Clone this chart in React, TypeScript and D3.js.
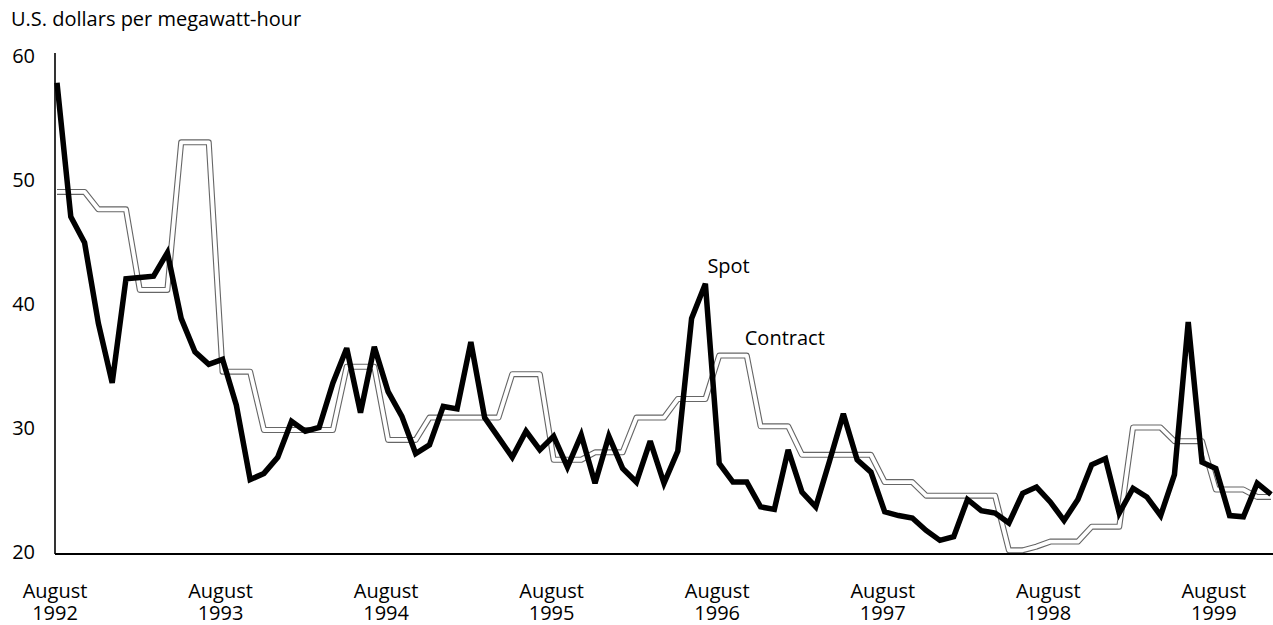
import React from 'react';
import * as d3 from 'd3';

// Monthly values, August 1992 – December 1999 (U.S. dollars per megawatt-hour)
const spot: number[] = [
  58.0, 47.2, 45.1, 38.6, 33.8, 42.2, 42.3, 42.4, 44.3, 39.0, 36.3, 35.3,
  35.7, 32.0, 26.0, 26.5, 27.8, 30.7, 29.9, 30.2, 33.8, 36.6, 31.4, 36.7,
  33.1, 31.1, 28.1, 28.8, 31.9, 31.7, 37.1, 31.0, 29.4, 27.8, 29.9, 28.4,
  29.5, 27.0, 29.6, 25.7, 29.5, 26.9, 25.8, 29.1, 25.7, 28.3, 39.0, 41.8,
  27.3, 25.8, 25.8, 23.8, 23.6, 28.4, 25.0, 23.8, 27.5, 31.3, 27.6, 26.6,
  23.4, 23.1, 22.9, 21.9, 21.1, 21.4, 24.4, 23.5, 23.3, 22.5, 24.9, 25.4,
  24.2, 22.7, 24.4, 27.2, 27.7, 23.3, 25.3, 24.6, 23.1, 26.4, 38.7, 27.4,
  26.9, 23.1, 23.0, 25.7, 24.8,
];

const contract: number[] = [
  49.2, 49.2, 49.2, 47.8, 47.8, 47.8, 41.3, 41.3, 41.3, 53.2, 53.2, 53.2,
  34.7, 34.7, 34.7, 30.0, 30.0, 30.0, 30.0, 30.0, 30.0, 35.1, 35.1, 35.1,
  29.2, 29.2, 29.2, 31.0, 31.0, 31.0, 31.0, 31.0, 31.0, 34.5, 34.5, 34.5,
  27.6, 27.6, 27.6, 28.2, 28.2, 28.2, 31.0, 31.0, 31.0, 32.5, 32.5, 32.5,
  36.0, 36.0, 36.0, 30.3, 30.3, 30.3, 28.0, 28.0, 28.0, 28.0, 28.0, 28.0,
  25.8, 25.8, 25.8, 24.7, 24.7, 24.7, 24.7, 24.7, 24.7, 20.3, 20.3, 20.6,
  21.0, 21.0, 21.0, 22.2, 22.2, 22.2, 30.2, 30.2, 30.2, 29.1, 29.1, 29.1,
  25.2, 25.2, 25.2, 24.6, 24.6,
];

const yTicks: number[] = [20, 30, 40, 50, 60];
const xTickYears: number[] = [1992, 1993, 1994, 1995, 1996, 1997, 1998, 1999];
const xTickMonth = 'August';
const unitLabel = 'U.S. dollars per megawatt-hour';
const spotLabel = 'Spot';
const contractLabel = 'Contract';

const W = 1273;
const H = 625;
const FONT = '"Open Sans", "Noto Sans", sans-serif';
const FS = 20;

export default function App() {
  const n = spot.length;
  const x = d3.scaleLinear().domain([0, n - 1]).range([57, 1271]);
  const y = d3.scaleLinear().domain([20, 60]).range([554, 58]);
  const line = d3
    .line<number>()
    .x((_, i) => x(i))
    .y((d) => y(d));

  const spotPeak = spot.indexOf(d3.max(spot.slice(36, 60)) as number);
  const contractPeak = 50;

  return (
    <svg
      width={W}
      height={H}
      viewBox={`0 0 ${W} ${H}`}
      style={{ position: 'absolute', left: 0, top: 0, background: '#fff' }}
      fontFamily={FONT}
      fontWeight={500}
    >
      <rect x={0} y={0} width={W} height={H} fill="#fff" />
      <text x={11} y={26} fontSize={FS} fill="#000">
        {unitLabel}
      </text>

      {yTicks.map((t) => (
        <text
          key={t}
          x={35}
          y={y(t) - 3}
          fontSize={FS}
          textAnchor="end"
          dominantBaseline="central"
          fill="#000"
        >
          {t}
        </text>
      ))}

      {xTickYears.map((yr, i) => (
        <g key={yr}>
          <text x={x(i * 12) - 2} y={598} textAnchor="middle" fontSize={FS} fill="#000">
            {xTickMonth}
          </text>
          <text x={x(i * 12) - 2} y={620} textAnchor="middle" fontSize={FS} fill="#000">
            {yr}
          </text>
        </g>
      ))}

      {/* contract: hollow double line */}
      <path d={line(contract) || ''} fill="none" stroke="#666" strokeWidth={6} strokeLinejoin="round" />
      <path d={line(contract) || ''} fill="none" stroke="#fff" strokeWidth={3.8} strokeLinejoin="round" />

      {/* spot */}
      <path d={line(spot) || ''} fill="none" stroke="#000" strokeWidth={5.5} strokeLinejoin="miter" strokeMiterlimit={3} />

      {/* axes */}
      <line x1={55} x2={55} y1={53} y2={554} stroke="#000" strokeWidth={1.6} />
      <line x1={55} x2={W} y1={554} y2={554} stroke="#000" strokeWidth={2} />

      <text x={x(spotPeak) + 2} y={y(spot[spotPeak]) - 11} fontSize={FS} fill="#000">
        {spotLabel}
      </text>
      <text x={x(contractPeak) - 2} y={y(contract[contractPeak]) - 11} fontSize={FS} fill="#000">
        {contractLabel}
      </text>
    </svg>
  );
}
